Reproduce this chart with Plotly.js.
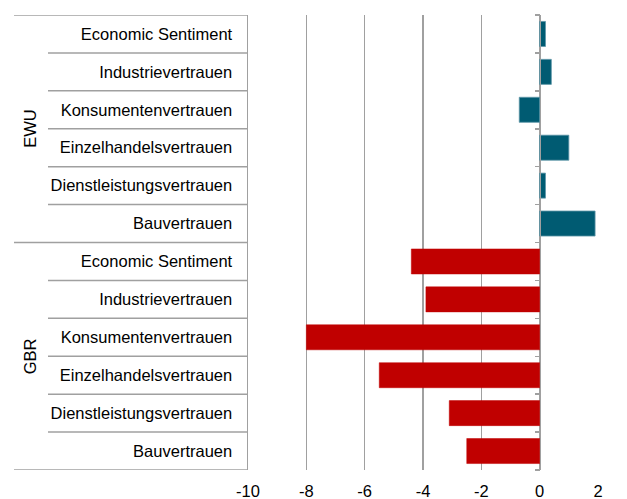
<!DOCTYPE html>
<html>
<head>
<meta charset="utf-8">
<script src="https://cdn.plot.ly/plotly-3.0.1.min.js"></script>
<style>html,body{margin:0;padding:0;background:#fff;}#chart{width:627px;height:499px;}</style>
</head>
<body>
<div id="chart"></div>
<script>
const groups = ['EWU', 'GBR'];
const categories = ['Economic Sentiment', 'Industrievertrauen', 'Konsumentenvertrauen', 'Einzelhandelsvertrauen', 'Dienstleistungsvertrauen', 'Bauvertrauen'];
const ewuValues = [0.2, 0.4, -0.7, 1.0, 0.2, 1.9];
const gbrValues = [-4.4, -3.9, -8.0, -5.5, -3.1, -2.5];
const xTicks = [-10, -8, -6, -4, -2, 0, 2];

const n = categories.length;
const ewuPos = categories.map((c, i) => i);
const gbrPos = categories.map((c, i) => n + i);
const allPos = ewuPos.concat(gbrPos);
const allLabels = categories.concat(categories);
const boundaries = [];
for (let k = 0; k <= 2 * n; k++) boundaries.push(k - 0.5);

const gray = '#a0a0a0';
const lw = 1.5;
const font = {family: 'Liberation Sans, Arial, sans-serif', size: 16.5, color: '#000'};

const traces = [
  {type: 'bar', orientation: 'h', y: ewuPos, x: ewuValues, width: 0.66,
   marker: {color: '#005b72', line: {color: '#5f97a8', width: 0.8}}, hoverinfo: 'x'},
  {type: 'bar', orientation: 'h', y: gbrPos, x: gbrValues, width: 0.66,
   marker: {color: '#c00000', line: {color: '#c00000', width: 0.5}}, hoverinfo: 'x'}
];

const L = 248, R = 29, W = 627;
const plotW = W - L - R;
const px = p => (p - L) / plotW;

const shapes = [];
boundaries.forEach((b, k) => {
  const isGroup = (k % n === 0);
  shapes.push({type: 'line', xref: 'paper', yref: 'y', x0: px(isGroup ? 14 : 48), x1: 0, y0: b, y1: b,
    line: {color: gray, width: lw}});
});

const annotations = groups.map((g, gi) => ({
  text: g, xref: 'paper', yref: 'y', x: px(30), y: gi * n + (n - 1) / 2,
  showarrow: false, textangle: -90, font: font, xanchor: 'center', yanchor: 'middle'
}));

const layout = {
  width: 627, height: 499,
  margin: {l: L, r: R, t: 15, b: 29},
  paper_bgcolor: '#fff', plot_bgcolor: '#fff',
  showlegend: false, barmode: 'overlay',
  font: font,
  xaxis: {range: [-10, 2], tickvals: xTicks, ticktext: xTicks.map(String), showgrid: true, gridcolor: gray, gridwidth: lw,
          zeroline: false, showline: false, ticks: '', tickfont: font, ticklabelstandoff: 9, fixedrange: true},
  yaxis: {range: [2 * n - 0.5, -0.5], tickvals: allPos, ticktext: allLabels, showgrid: false, zeroline: false,
          showline: true, linecolor: gray, linewidth: lw, ticks: '', tickfont: font, ticklabelstandoff: 11, fixedrange: true},
  yaxis2: {overlaying: 'y', anchor: 'free', position: 10 / 12, side: 'left', range: [2 * n - 0.5, -0.5],
           tickvals: boundaries, showticklabels: false, ticks: 'outside', ticklen: 5, tickcolor: gray, tickwidth: lw,
           showline: true, linecolor: gray, linewidth: lw, showgrid: false, zeroline: false, fixedrange: true},
  shapes: shapes,
  annotations: annotations
};

// invisible helper trace so that the zero-line axis (yaxis2) is drawn
traces.push({type: 'scatter', x: [0], y: [0], yaxis: 'y2', mode: 'markers', marker: {opacity: 0}, hoverinfo: 'skip'});

Plotly.newPlot('chart', traces, layout, {displayModeBar: false, staticPlot: true});
</script>
</body>
</html>
